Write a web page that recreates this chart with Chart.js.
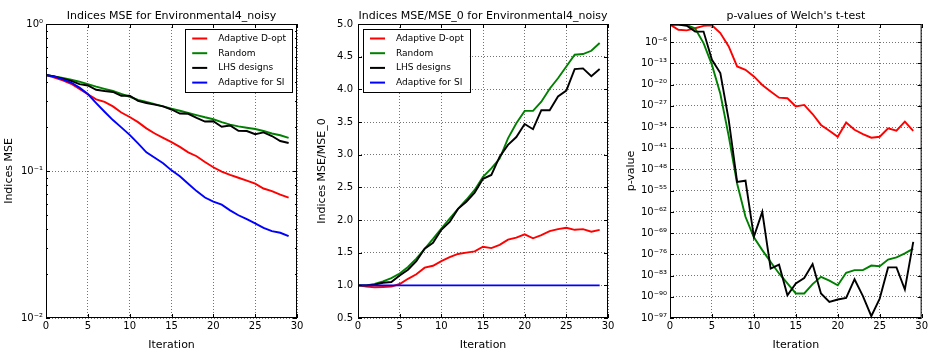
<!DOCTYPE html>
<html>
<head>
<meta charset="utf-8">
<script src="https://cdn.jsdelivr.net/npm/chart.js@4"></script>
<style>
  body { margin: 0; background: #fff; }
  canvas { position: absolute; top: 0; }
</style>
</head>
<body>
<canvas id="mseChart" width="310" height="350" style="left:0px"></canvas>
<canvas id="ratioChart" width="310" height="350" style="left:310px"></canvas>
<canvas id="pvalChart" width="310" height="350" style="left:620px"></canvas>
<script>
// iteraciones (eje x comun)
const iterations = [0, 1, 2, 3, 4, 5, 6, 7, 8, 9, 10, 11, 12, 13, 14, 15, 16, 17, 18, 19, 20, 21, 22, 23, 24, 25, 26, 27, 28, 29];
const seriesNames = ['Adaptive D-opt', 'Random', 'LHS designs', 'Adaptive for SI'];

// panel 1: Indices MSE
const mseDopt = [0.45, 0.432, 0.413, 0.392, 0.362, 0.333, 0.307, 0.295, 0.275, 0.25, 0.233, 0.215, 0.195, 0.18, 0.168, 0.157, 0.146, 0.134, 0.126, 0.115, 0.106, 0.099, 0.094, 0.090, 0.086, 0.082, 0.076, 0.073, 0.069, 0.066];
const mseRandom = [0.45, 0.44, 0.43, 0.418, 0.405, 0.39, 0.375, 0.362, 0.35, 0.335, 0.32, 0.305, 0.295, 0.285, 0.275, 0.265, 0.257, 0.248, 0.24, 0.232, 0.225, 0.215, 0.207, 0.201, 0.197, 0.193, 0.187, 0.18, 0.175, 0.168];
const mseLhs = [0.45, 0.44, 0.425, 0.41, 0.39, 0.382, 0.357, 0.35, 0.345, 0.325, 0.325, 0.30, 0.29, 0.283, 0.275, 0.262, 0.246, 0.245, 0.23, 0.217, 0.218, 0.20, 0.204, 0.188, 0.187, 0.178, 0.183, 0.173, 0.16, 0.155];
const mseSI = [0.45, 0.439, 0.42, 0.40, 0.369, 0.334, 0.29, 0.253, 0.222, 0.198, 0.176, 0.154, 0.134, 0.123, 0.113, 0.101, 0.092, 0.082, 0.073, 0.066, 0.062, 0.059, 0.054, 0.050, 0.047, 0.044, 0.041, 0.039, 0.038, 0.036];
const mseTicks = [0.01, 0.1, 1];
const mseTickLabels = ['10⁻²', '10⁻¹', '10⁰'];

// panel 2: Indices MSE/MSE_0
const ratioDopt = [1.0, 0.98, 0.97, 0.975, 0.98, 1.02, 1.10, 1.17, 1.27, 1.30, 1.37, 1.43, 1.48, 1.50, 1.52, 1.59, 1.57, 1.62, 1.70, 1.73, 1.78, 1.72, 1.77, 1.83, 1.86, 1.88, 1.85, 1.86, 1.82, 1.85];
const ratioRandom = [1.0, 1.0, 1.02, 1.06, 1.11, 1.18, 1.28, 1.41, 1.56, 1.71, 1.87, 2.02, 2.17, 2.31, 2.46, 2.66, 2.79, 2.94, 3.25, 3.48, 3.67, 3.67, 3.81, 4.01, 4.17, 4.35, 4.53, 4.54, 4.59, 4.71];
const ratioLhs = [1.0, 1.0, 1.01, 1.04, 1.05, 1.15, 1.24, 1.37, 1.56, 1.65, 1.85, 1.97, 2.17, 2.28, 2.42, 2.63, 2.69, 2.97, 3.15, 3.27, 3.47, 3.39, 3.68, 3.68, 3.89, 3.98, 4.31, 4.32, 4.2, 4.31];
const ratioSI = [1, 1, 1, 1, 1, 1, 1, 1, 1, 1, 1, 1, 1, 1, 1, 1, 1, 1, 1, 1, 1, 1, 1, 1, 1, 1, 1, 1, 1, 1];

// panel 3: p-values (exponentes en base 10)
const pExpDopt = [-0.2, -1.9, -2.1, -1.4, -0.6, -0.4, -3.0, -7.4, -14.0, -15.1, -17.3, -20.1, -22.3, -24.3, -24.5, -27.2, -26.7, -29.7, -33.3, -35.2, -37.2, -32.5, -34.9, -36.3, -37.5, -37.2, -34.4, -35.2, -32.2, -35.3];
const pExpRandom = [-0.2, -0.2, -0.3, -1.5, -6.3, -13.5, -23.0, -37.0, -52.6, -63.6, -70.4, -74.6, -78.5, -82.3, -85.6, -88.9, -88.9, -85.8, -83.4, -84.7, -86.2, -82.1, -81.2, -81.2, -79.7, -79.9, -77.7, -77.0, -75.7, -74.1];
const pExpLhs = [-0.2, -0.2, -0.6, -2.5, -2.5, -11.8, -16.2, -31.6, -52.1, -51.7, -70.2, -62.0, -80.7, -79.4, -89.5, -85.6, -83.8, -79.2, -88.9, -91.7, -90.9, -90.4, -84.2, -89.8, -96.4, -90.6, -80.3, -80.3, -87.6, -71.9];
const pTickExps = [-97, -90, -83, -76, -69, -62, -55, -48, -41, -34, -27, -20, -13, -6];
const pTickLabels = ['10⁻⁹⁷', '10⁻⁹⁰', '10⁻⁸³', '10⁻⁷⁶', '10⁻⁶⁹', '10⁻⁶²', '10⁻⁵⁵', '10⁻⁴⁸', '10⁻⁴¹', '10⁻³⁴', '10⁻²⁷', '10⁻²⁰', '10⁻¹³', '10⁻⁶'];

const colors = ['#ff0000', '#008000', '#000000', '#0000ff'];

Chart.defaults.font.family = "'DejaVu Sans', sans-serif";
Chart.defaults.font.size = 11;
Chart.defaults.color = '#000';

// ejes estilo matplotlib: marco, ticks hacia dentro, titulo y leyenda con caja
const mplAxes = {
  id: 'mplAxes',
  afterDatasetsDraw(chart, args, opts) {
    const {ctx, chartArea: a, scales} = chart;
    ctx.save();
    ctx.strokeStyle = '#000';
    ctx.lineWidth = 1;
    ctx.beginPath();
    scales.x.ticks.forEach(t => {
      const px = Math.round(scales.x.getPixelForValue(t.value)) + 0.5;
      ctx.moveTo(px, a.bottom); ctx.lineTo(px, a.bottom - 4);
      ctx.moveTo(px, a.top); ctx.lineTo(px, a.top + 4);
    });
    scales.y.ticks.forEach(t => {
      const len = t.major === false ? 2 : 4;
      const py = Math.round(scales.y.getPixelForValue(t.value)) + 0.5;
      ctx.moveTo(a.left, py); ctx.lineTo(a.left + len, py);
      ctx.moveTo(a.right, py); ctx.lineTo(a.right - len, py);
    });
    ctx.stroke();
    ctx.strokeRect(a.left + 0.5, a.top + 0.5, a.width - 1, a.height - 1);

    ctx.fillStyle = '#000';
    ctx.font = "11px 'DejaVu Sans'";
    ctx.textAlign = 'center';
    ctx.textBaseline = 'middle';
    ctx.fillText(opts.title, (a.left + a.right) / 2, a.top - 8);

    if (opts.legend) {
      const sets = chart.data.datasets;
      ctx.font = "9px 'DejaVu Sans'";
      const textW = Math.max(...sets.map(d => ctx.measureText(d.label).width));
      const w = 33 + textW + 6, h = 63;
      const x0 = opts.legend === 'right' ? a.right - 5 - w : a.left + 5;
      const y0 = a.top + 5;
      ctx.fillStyle = '#fff';
      ctx.fillRect(x0, y0, w, h);
      ctx.strokeRect(Math.round(x0) + 0.5, y0 + 0.5, Math.round(w), h);
      ctx.textAlign = 'left';
      sets.forEach((d, i) => {
        const y = y0 + 9.5 + i * 14.7;
        ctx.strokeStyle = d.borderColor;
        ctx.lineWidth = 2;
        ctx.beginPath();
        ctx.moveTo(x0 + 7, y); ctx.lineTo(x0 + 22, y);
        ctx.stroke();
        ctx.fillStyle = '#000';
        ctx.fillText(d.label, x0 + 33, y);
      });
    }
    ctx.restore();
  }
};

function makeDatasets(seriesList, mapY) {
  return seriesList.map((vals, i) => ({
    label: seriesNames[i],
    data: vals.map((v, k) => ({x: iterations[k], y: mapY ? mapY(v) : v})),
    borderColor: colors[i],
    borderWidth: 1.9,
    pointRadius: 0,
    tension: 0,
    order: 4 - i
  }));
}

const gridBase = { color: 'rgba(0,0,0,0.55)', lineWidth: 1, drawTicks: false };
const borderBase = { display: false, dash: [1, 2] };
const tickFont = { size: 10 };

function xAxis() {
  return {
    type: 'linear', min: 0, max: 30,
    ticks: { stepSize: 5, padding: 2, font: tickFont },
    grid: gridBase,
    border: borderBase,
    title: { display: true, text: 'Iteration', padding: { top: 0, bottom: -2 } },
    afterFit: s => { s.height = 32; }
  };
}

function baseOptions(title, legend, padRight, yAxis) {
  return {
    responsive: false,
    animation: false,
    layout: { padding: { top: 24, right: padRight, left: 0, bottom: 0 } },
    plugins: {
      legend: { display: false },
      tooltip: { enabled: false },
      mplAxes: { title, legend }
    },
    scales: { x: xAxis(), y: yAxis }
  };
}

// panel 1
new Chart(document.getElementById('mseChart').getContext('2d'), {
  type: 'line',
  data: { datasets: makeDatasets([mseDopt, mseRandom, mseLhs, mseSI]) },
  options: baseOptions('Indices MSE for Environmental4_noisy', 'right', 13, {
    type: 'logarithmic', min: 0.01, max: 1,
    afterBuildTicks: scale => {
      const ticks = [];
      mseTicks.forEach((v, i) => {
        ticks.push({ value: v, major: true });
        if (i < mseTicks.length - 1) {
          for (let m = 2; m < 10; m++) ticks.push({ value: v * m, major: false });
        }
      });
      scale.ticks = ticks;
    },
    ticks: {
      autoSkip: false, padding: 3, font: tickFont,
      callback: v => {
        const i = mseTicks.findIndex(t => Math.abs(t - v) < t * 1e-6);
        return i >= 0 ? mseTickLabels[i] : '';
      }
    },
    grid: Object.assign({}, gridBase, {
      color: c => (c.tick && c.tick.major) ? 'rgba(0,0,0,0.55)' : 'transparent'
    }),
    border: borderBase,
    title: { display: true, text: 'Indices MSE', padding: { top: 3 } },
    afterFit: s => { s.width = 46; }
  }),
  plugins: [mplAxes]
});

// panel 2
new Chart(document.getElementById('ratioChart').getContext('2d'), {
  type: 'line',
  data: { datasets: makeDatasets([ratioDopt, ratioRandom, ratioLhs, ratioSI]) },
  options: baseOptions('Indices MSE/MSE_0 for Environmental4_noisy', 'left', 12, {
    type: 'linear', min: 0.5, max: 5.0,
    ticks: { stepSize: 0.5, padding: 5, font: tickFont, callback: v => v.toFixed(1) },
    grid: gridBase,
    border: borderBase,
    title: { display: true, text: 'Indices MSE/MSE_0', padding: { top: 6 } },
    afterFit: s => { s.width = 48; }
  }),
  plugins: [mplAxes]
});

// panel 3
new Chart(document.getElementById('pvalChart').getContext('2d'), {
  type: 'line',
  data: { datasets: makeDatasets([pExpDopt, pExpRandom, pExpLhs], e => Math.pow(10, e)) },
  options: baseOptions("p-values of Welch's t-test", null, 8, {
    type: 'logarithmic', min: 1e-97, max: 1,
    afterBuildTicks: scale => {
      scale.ticks = pTickExps.map(e => ({ value: Math.pow(10, e), major: true }));
    },
    ticks: {
      autoSkip: false, padding: 3, font: tickFont,
      callback: (v, i) => pTickLabels[i]
    },
    grid: gridBase,
    border: borderBase,
    title: { display: true, text: 'p-value', padding: { top: 5 } },
    afterFit: s => { s.width = 50; }
  }),
  plugins: [mplAxes]
});
</script>
</body>
</html>
